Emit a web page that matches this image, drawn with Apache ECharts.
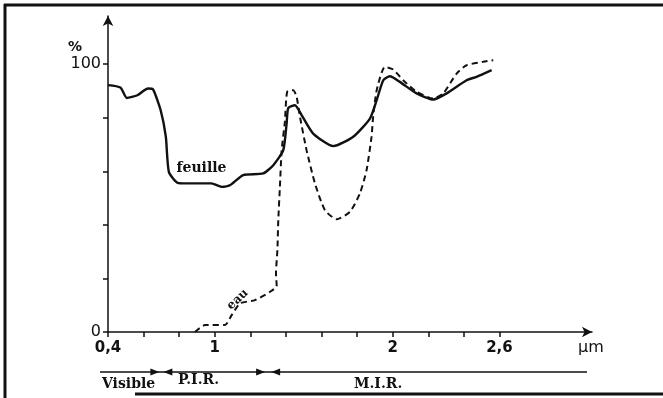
<!DOCTYPE html>
<html>
<head>
<meta charset="utf-8">
<script src="https://cdn.jsdelivr.net/npm/echarts@6/dist/echarts.min.js"></script>
<style>
  html, body { margin: 0; padding: 0; background: #fff; }
  #chart { width: 663px; height: 398px; }
</style>
</head>
<body>
<div id="chart"></div>
<script>
// reflectance spectra: [wavelength µm, %]
const feuille = [
  [0.40, 92.2], [0.47, 91.3], [0.506, 87.4], [0.565, 88.4], [0.625, 90.9], [0.653, 90.6],
  [0.696, 82.8], [0.725, 72.9], [0.742, 59.8], [0.791, 55.7], [0.838, 55.5], [0.981, 55.5],
  [1.04, 54.2], [1.088, 54.9], [1.16, 58.6], [1.272, 59.2], [1.329, 62.3], [1.385, 67.9],
  [1.404, 78.0], [1.413, 83.6], [1.451, 84.7], [1.488, 81.0], [1.553, 74.1], [1.666, 69.4],
  [1.778, 72.9], [1.872, 79.7], [1.91, 86.6], [1.947, 94.0], [1.984, 95.5], [2.04, 93.4],
  [2.134, 89.1], [2.228, 86.8], [2.303, 89.1], [2.415, 94.0], [2.471, 95.3], [2.556, 97.8]
]
const eau = [
  [0.889, 0], [0.945, 2.6], [1.057, 2.6], [1.095, 6.3], [1.142, 10.7], [1.226, 11.9],
  [1.31, 15.0], [1.348, 17.2], [1.344, 21.9], [1.352, 30.6], [1.357, 41.8], [1.366, 54.2],
  [1.376, 67.9], [1.394, 78.5], [1.407, 89.7], [1.441, 90.3], [1.46, 87.8], [1.479, 80.3],
  [1.516, 67.9], [1.563, 55.5], [1.619, 45.5], [1.685, 42.1], [1.76, 44.9], [1.816, 51.8],
  [1.853, 60.4], [1.881, 72.9], [1.89, 80.3], [1.91, 90.3], [1.956, 99.0], [2.003, 98.0],
  [2.059, 94.0], [2.134, 89.7], [2.228, 87.2], [2.284, 89.1], [2.359, 96.5], [2.415, 99.6],
  [2.508, 100.9], [2.565, 101.5]
]
const xTicks = [0.4, 0.6, 0.8, 1.0, 1.2, 1.4, 1.6, 1.8, 2.0, 2.2, 2.4, 2.6]
const xLabels = [0.4, 1, 2, 2.6]
const yTicks = [0, 20, 40, 60, 80, 100]
const yLabels = [0, 100]
// spectral domains (µm)
const domains = ['Visible', 'P.I.R.', 'M.I.R.']
const domainBounds = [0.7, 1.3]

const ink = '#111'
const chart = echarts.init(document.getElementById('chart'))

chart.setOption({
  animation: false,
  backgroundColor: '#fff',
  grid: { left: 108, right: 71, top: 16, bottom: 66 },
  xAxis: {
    type: 'value',
    min: 0.4,
    max: 3.12,
    splitLine: { show: false },
    axisLine: { lineStyle: { color: ink, width: 1.5 }, symbol: ['none', 'arrow'], symbolSize: [8, 10] },
    axisTick: { customValues: xTicks, length: 5, lineStyle: { color: ink, width: 1.5 } },
    axisLabel: {
      customValues: xLabels,
      margin: 9,
      color: ink,
      fontFamily: 'DejaVu Sans',
      fontWeight: 'bold',
      fontSize: 15,
      formatter: v => String(v).replace('.', ',')
    }
  },
  yAxis: {
    type: 'value',
    min: 0,
    max: 118,
    splitLine: { show: false },
    axisLine: { lineStyle: { color: ink, width: 1.5 }, symbol: ['none', 'arrow'], symbolSize: [8, 10] },
    axisTick: { customValues: yTicks, length: 5, lineStyle: { color: ink, width: 1.5 } },
    axisLabel: {
      customValues: yLabels,
      margin: 7,
      color: ink,
      fontFamily: 'DejaVu Sans',
      fontSize: 16,
      formatter: v => String(v)
    }
  },
  series: [
    {
      name: 'feuille',
      type: 'line',
      data: feuille,
      showSymbol: false,
      smooth: 0.2,
      lineStyle: { color: ink, width: 2.4 }
    },
    {
      name: 'eau',
      type: 'line',
      data: eau,
      showSymbol: false,
      smooth: 0.2,
      lineStyle: { color: ink, width: 2, type: [6, 4] }
    }
  ]
})

function px(x, y) {
  return chart.convertToPixel({ xAxisIndex: 0, yAxisIndex: 0 }, [x, y])
}

function arrowHead(tipX, y, dir) {
  // dir = 1 points right, -1 points left
  return {
    type: 'polygon',
    shape: { points: [[tipX, y], [tipX - dir * 9, y - 3.5], [tipX - dir * 9, y + 3.5]] },
    style: { fill: ink }
  }
}

const serif = 'bold 14px "DejaVu Serif", serif'
const barY = 372
const b1 = px(domainBounds[0], 0)[0]
const b2 = px(domainBounds[1], 0)[0]
const pct = px(0.4, 106)
const um = px(3.12, 0)
const feuillePos = px(0.83, 60)

chart.setOption({
  graphic: [
    // frame
    { type: 'line', shape: { x1: 4, y1: 5, x2: 663, y2: 5 }, style: { stroke: ink, lineWidth: 3 } },
    { type: 'line', shape: { x1: 5, y1: 4, x2: 5, y2: 398 }, style: { stroke: ink, lineWidth: 3 } },
    { type: 'line', shape: { x1: 135, y1: 394, x2: 663, y2: 394 }, style: { stroke: ink, lineWidth: 3 } },
    // axis titles
    { type: 'text', x: pct[0] - 40, y: pct[1] - 8, style: { text: '%', font: 'bold 14px "DejaVu Sans"', fill: ink } },
    { type: 'text', x: um[0] - 14, y: um[1] + 8, style: { text: 'µm', font: '16px "DejaVu Sans"', fill: ink } },
    // curve labels
    { type: 'text', x: feuillePos[0] - 8, y: feuillePos[1] - 10, style: { text: 'feuille', font: serif, fill: ink } },
    { type: 'text', x: 233, y: 312, rotation: 0.75, originX: 0, originY: 0,
      style: { text: 'eau', font: 'bold 12px "DejaVu Serif", serif', fill: ink, verticalAlign: 'bottom' } },
    // spectral domain bar
    { type: 'line', shape: { x1: 100, y1: barY, x2: 587, y2: barY }, style: { stroke: ink, lineWidth: 1.5 } },
    arrowHead(b1 - 2, barY, 1),
    arrowHead(b1 + 2, barY, -1),
    arrowHead(b2 - 3, barY, 1),
    arrowHead(b2 + 3, barY, -1),
    { type: 'text', x: 102, y: 377, style: { text: domains[0], font: serif, fill: ink } },
    { type: 'text', x: 178, y: 373, style: { text: domains[1], font: serif, fill: ink } },
    { type: 'text', x: 354, y: 377, style: { text: domains[2], font: serif, fill: ink } }
  ]
})
</script>
</body>
</html>
